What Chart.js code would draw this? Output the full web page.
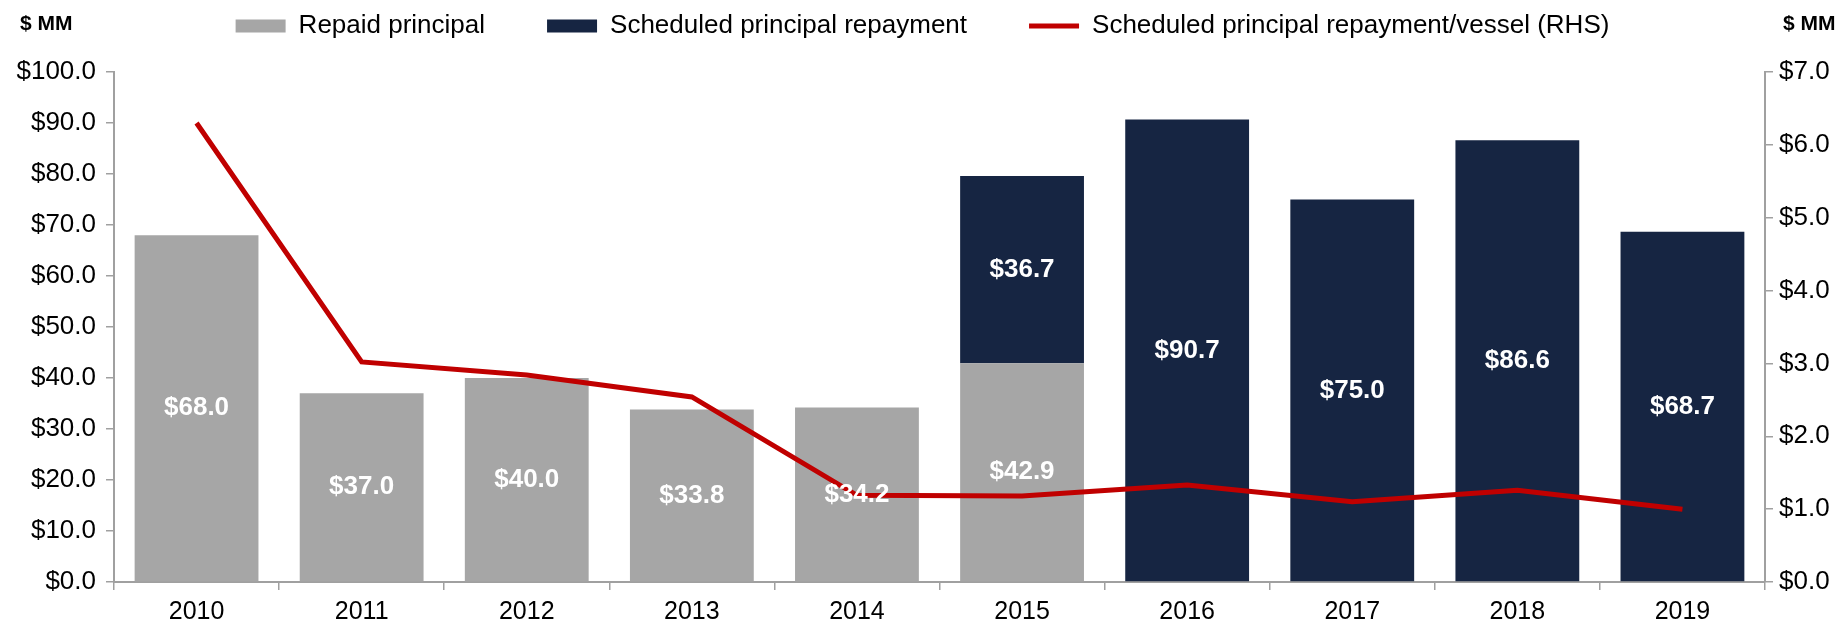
<!DOCTYPE html>
<html>
<head>
<meta charset="utf-8">
<script src="https://cdn.jsdelivr.net/npm/chart.js@4/dist/chart.umd.min.js"></script>
<style>
  html, body { margin: 0; padding: 0; background: #ffffff; }
  #wrap { width: 1845px; height: 625px; }
</style>
</head>
<body>
<div id="wrap"><canvas id="chart"></canvas></div>
<script>
const years = ['2010', '2011', '2012', '2013', '2014', '2015', '2016', '2017', '2018', '2019'];
const repaidPrincipal = [68.0, 37.0, 40.0, 33.8, 34.2, 42.9, null, null, null, null];
const scheduledRepayment = [null, null, null, null, null, 36.7, 90.7, 75.0, 86.6, 68.7];
const repaymentPerVessel = [6.30, 3.02, 2.84, 2.54, 1.19, 1.18, 1.33, 1.10, 1.26, 1.00];

const leftTickLabels = ['$0.0', '$10.0', '$20.0', '$30.0', '$40.0', '$50.0', '$60.0', '$70.0', '$80.0', '$90.0', '$100.0'];
const rightTickLabels = ['$0.0', '$1.0', '$2.0', '$3.0', '$4.0', '$5.0', '$6.0', '$7.0'];
const unitLabel = '$ MM';

const FONT = '"Liberation Sans", Arial, sans-serif';
const grayColor = '#a6a6a6';
const navyColor = '#162542';
const redColor = '#c00000';
const axisColor = '#a0a0a0';

// legend spacing needs a big padding, so its height is fixed by hand
const legendFit = {
    id: 'legendFit',
    beforeInit(chart) {
        const originalFit = chart.legend.fit;
        chart.legend.fit = function fit() {
            originalFit.bind(chart.legend)();
            this.height = 121;
        };
    }
};

const barLabels = {
    id: 'barLabels',
    afterDatasetsDraw(chart) {
        const ctx = chart.ctx;
        ctx.save();
        ctx.font = 'bold 26px ' + FONT;
        ctx.fillStyle = '#ffffff';
        ctx.textAlign = 'center';
        ctx.textBaseline = 'middle';
        chart.data.datasets.forEach((ds, i) => {
            if (ds.type !== 'bar') return;
            chart.getDatasetMeta(i).data.forEach((bar, j) => {
                const v = ds.data[j];
                if (v == null) return;
                ctx.fillText('$' + v.toFixed(1), bar.x, (bar.y + bar.base) / 2);
            });
        });
        ctx.restore();
    }
};

const unitLabels = {
    id: 'unitLabels',
    afterDraw(chart) {
        const ctx = chart.ctx;
        ctx.save();
        ctx.font = 'bold 21px ' + FONT;
        ctx.fillStyle = '#000000';
        ctx.textAlign = 'left';
        ctx.textBaseline = 'middle';
        ctx.fillText(unitLabel, chart.scales.y.left + 20, 24);
        ctx.fillText(unitLabel, chart.scales.y1.left + 18, 24);
        ctx.restore();
    }
};

new Chart(document.getElementById('chart'), {
    type: 'bar',
    data: {
        labels: years,
        datasets: [
            {
                type: 'bar',
                label: 'Repaid principal',
                data: repaidPrincipal,
                backgroundColor: grayColor,
                borderWidth: 0,
                yAxisID: 'y',
                order: 1
            },
            {
                type: 'bar',
                label: 'Scheduled principal repayment',
                data: scheduledRepayment,
                backgroundColor: navyColor,
                borderWidth: 0,
                yAxisID: 'y',
                order: 1
            },
            {
                type: 'line',
                label: 'Scheduled principal repayment/vessel (RHS)',
                data: repaymentPerVessel,
                borderColor: redColor,
                backgroundColor: redColor,
                borderWidth: 5,
                pointRadius: 0,
                tension: 0,
                yAxisID: 'y1',
                order: 0
            }
        ]
    },
    options: {
        responsive: true,
        maintainAspectRatio: false,
        animation: false,
        events: [],
        barPercentage: 0.75,
        categoryPercentage: 1.0,
        layout: {
            padding: { top: -49, left: 0, right: 0, bottom: 0 }
        },
        plugins: {
            legend: {
                display: true,
                position: 'top',
                labels: {
                    font: { family: FONT, size: 26 },
                    color: '#000000',
                    usePointStyle: true,
                    pointStyleWidth: 50,
                    boxHeight: 13,
                    padding: 62,
                    sort: (a, b) => a.datasetIndex - b.datasetIndex,
                    generateLabels(chart) {
                        return chart.data.datasets.map((ds, i) => ({
                            text: ds.label,
                            datasetIndex: i,
                            fillStyle: ds.type === 'line' ? redColor : ds.backgroundColor,
                            strokeStyle: ds.type === 'line' ? redColor : ds.backgroundColor,
                            lineWidth: ds.type === 'line' ? 5 : 0,
                            pointStyle: ds.type === 'line' ? 'line' : 'rect',
                            fontColor: '#000000',
                            hidden: false
                        }));
                    }
                }
            },
            tooltip: { enabled: false }
        },
        scales: {
            x: {
                stacked: true,
                grid: {
                    drawOnChartArea: false,
                    drawTicks: true,
                    tickLength: 8,
                    color: axisColor,
                    lineWidth: 1.5
                },
                border: { display: true, color: axisColor, width: 2 },
                ticks: {
                    font: { family: FONT, size: 25 },
                    color: '#000000',
                    padding: 7,
                    maxRotation: 0
                },
                afterFit(scale) { scale.height = 43; }
            },
            y: {
                stacked: true,
                position: 'left',
                min: 0,
                max: 100,
                ticks: {
                    stepSize: 10,
                    font: { family: FONT, size: 26 },
                    color: '#000000',
                    padding: 10,
                    callback: (v, i) => leftTickLabels[i]
                },
                grid: {
                    drawOnChartArea: false,
                    drawTicks: true,
                    tickLength: 8,
                    color: axisColor,
                    lineWidth: 1.5
                },
                border: { display: true, color: axisColor, width: 2 },
                afterFit(scale) { scale.width = 114; }
            },
            y1: {
                stacked: false,
                position: 'right',
                min: 0,
                max: 7,
                ticks: {
                    stepSize: 1,
                    font: { family: FONT, size: 26 },
                    color: '#000000',
                    padding: 6,
                    callback: (v, i) => rightTickLabels[i]
                },
                grid: {
                    drawOnChartArea: false,
                    drawTicks: true,
                    tickLength: 8,
                    color: axisColor,
                    lineWidth: 1.5
                },
                border: { display: true, color: axisColor, width: 2 },
                afterFit(scale) { scale.width = 80; }
            }
        }
    },
    plugins: [legendFit, barLabels, unitLabels]
});
</script>
</body>
</html>
